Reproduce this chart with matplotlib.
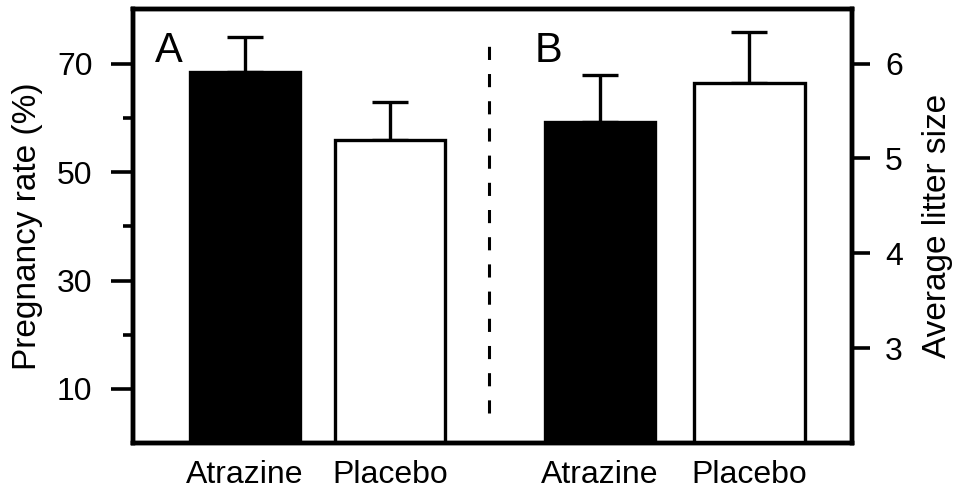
import matplotlib
matplotlib.use('Agg')
import matplotlib.pyplot as plt

# data
groups = ['Atrazine', 'Placebo']
pos_a = [0, 1]
pos_b = [2.45, 3.48]
pregnancy = [68.5, 55.9]       # panel A, %
pregnancy_err = [6.4, 7.0]
litter = [5.38, 5.80]          # panel B, pups
litter_err = [0.50, 0.53]
fills = ['black', 'white']

plt.rcParams['font.family'] = ['Liberation Sans', 'DejaVu Sans']

fig = plt.figure(figsize=(9.56, 4.93), dpi=100)
ax = fig.add_axes([0.139, 0.101, 0.752, 0.880])
ax2 = ax.twinx()

lw = 2.4
bw = 0.76

# panel A on the left axis
ax.bar(pos_a, pregnancy, width=bw, color=fills, edgecolor='black',
       linewidth=lw, zorder=2)
ax.errorbar(pos_a, pregnancy, yerr=[[0, 0], pregnancy_err], fmt='none',
            ecolor='black', elinewidth=lw, capsize=13, capthick=lw, zorder=1)

# panel B on the right axis, bars start at the axis floor
ymin_b = 2.0
ax2.bar(pos_b, [v - ymin_b for v in litter], bottom=ymin_b, width=bw,
        color=fills, edgecolor='black', linewidth=lw, zorder=2)
ax2.errorbar(pos_b, litter, yerr=[[0, 0], litter_err], fmt='none',
             ecolor='black', elinewidth=lw, capsize=13, capthick=lw, zorder=1)

# left axis 0-80, right axis scaled so that 6 lines up with 70
ax.set_ylim(0, 80)
ax2.set_ylim(ymin_b, ymin_b + 80 * 4 / 70)
ax.set_xlim(-0.772, 4.186)

# divider between the panels
ax.vlines(1.683, 5.5, 74.5, colors='black', linewidth=2.2,
          linestyles=(0, (4.3, 4.6)))

ax.set_yticks([10, 30, 50, 70])
ax.set_yticks([20, 40, 60], minor=True)
ax2.set_yticks([3, 4, 5, 6])

ax.set_xticks(pos_a + pos_b)
ax.set_xticklabels(groups + groups)

ax.tick_params(axis='x', length=0, pad=12, labelsize=23)
ax.tick_params(axis='y', which='major', length=16, width=2.6, pad=13,
               labelsize=23)
ax.tick_params(axis='y', which='minor', length=7, width=2.6)
ax2.tick_params(axis='y', which='major', length=13, width=2.6, pad=11,
                labelsize=23)

for a in (ax, ax2):
    for s in a.spines.values():
        s.set_linewidth(3.2)

ax.set_ylabel('Pregnancy rate (%)', fontsize=24, labelpad=10)
ax2.set_ylabel('Average litter size', fontsize=24, labelpad=14)

ax.text(0.031, 0.95, 'A', transform=ax.transAxes, fontsize=30,
        ha='left', va='top')
ax.text(0.559, 0.95, 'B', transform=ax.transAxes, fontsize=30,
        ha='left', va='top')

fig.savefig('out.png', dpi=100)
